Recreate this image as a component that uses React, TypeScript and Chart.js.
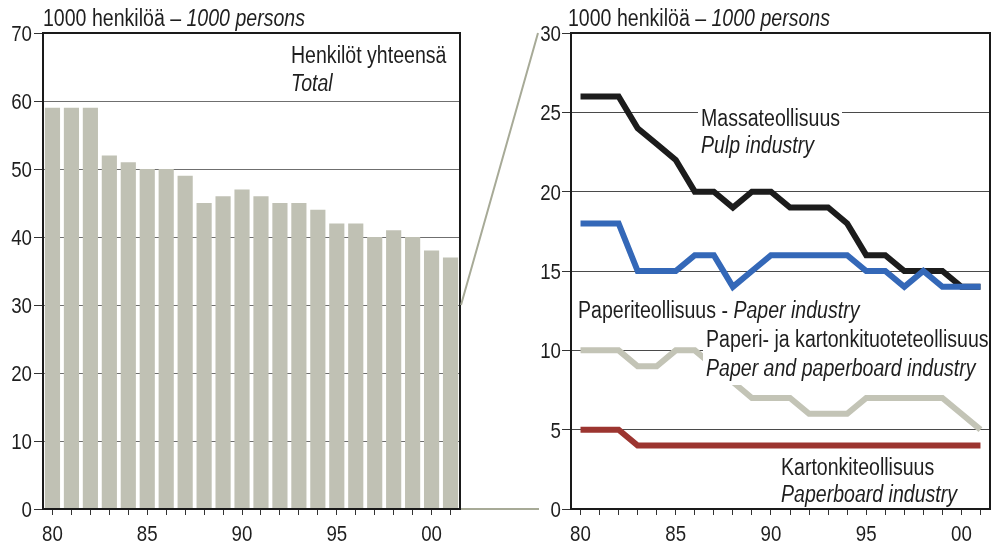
import React, { useEffect, useRef } from "react";
import { Chart, registerables } from "chart.js";

Chart.register(...registerables);

// ---------- data ----------
const years = ["80","81","82","83","84","85","86","87","88","89","90","91","92","93","94","95","96","97","98","99","00","01"];
const labelledYears = ["80", "85", "90", "95", "00"];

const totalEmployed = [59, 59, 59, 52, 51, 50, 50, 49, 45, 46, 47, 46, 45, 45, 44, 42, 42, 40, 41, 40, 38, 37];
const pulpIndustry = [26, 26, 26, 24, 23, 22, 20, 20, 19, 20, 20, 19, 19, 19, 18, 16, 16, 15, 15, 15, 14, 14];
const paperIndustry = [18, 18, 18, 15, 15, 15, 16, 16, 14, 15, 16, 16, 16, 16, 16, 15, 15, 14, 15, 14, 14, 14];
const paperProductsIndustry = [10, 10, 10, 9, 9, 10, 10, 9, 8, 7, 7, 7, 6, 6, 6, 7, 7, 7, 7, 7, 6, 5];
const paperboardIndustry = [5, 5, 5, 4, 4, 4, 4, 4, 4, 4, 4, 4, 4, 4, 4, 4, 4, 4, 4, 4, 4, 4];

const leftTicksY = { min: 0, max: 70, step: 10 };
const rightTicksY = { min: 0, max: 30, step: 5 };
const connectorValues = [30, 0];

// ---------- styling ----------
const FONT = "'Liberation Sans', Arial, sans-serif";
const TEXT = "#1e1e1e";
const SX = 0.85; // horizontal condensing to mimic a narrow sans

type Run = { t: string; i?: boolean };
function drawRuns(ctx: CanvasRenderingContext2D, x: number, y: number, runs: Run[], size: number, align: "left" | "right" | "center" = "left") {
  ctx.save();
  ctx.fillStyle = TEXT;
  ctx.textBaseline = "alphabetic";
  ctx.textAlign = "left";
  let total = 0;
  for (const r of runs) {
    ctx.font = `${r.i ? "italic " : ""}${size}px ${FONT}`;
    total += ctx.measureText(r.t).width;
  }
  let startX = x;
  if (align === "right") startX = x - total * SX;
  if (align === "center") startX = x - (total * SX) / 2;
  ctx.translate(startX, y);
  ctx.scale(SX, 1);
  let cx = 0;
  for (const r of runs) {
    ctx.font = `${r.i ? "italic " : ""}${size}px ${FONT}`;
    ctx.fillText(r.t, cx, 0);
    cx += ctx.measureText(r.t).width;
  }
  ctx.restore();
}

function drawFrame(chart: any) {
  const { ctx, chartArea: a } = chart;
  ctx.save();
  ctx.strokeStyle = "#1a1a1a";
  ctx.lineWidth = 2;
  ctx.strokeRect(a.left, a.top, a.right - a.left, a.bottom - a.top);
  ctx.restore();
}

function drawTickLabels(chart: any, yLabelGap: number) {
  const { ctx, chartArea: a, scales } = chart;
  const size = 22;
  const capHalf = 0.716 * size * 0.5;
  for (const t of scales.y.ticks) {
    const py = scales.y.getPixelForValue(t.value);
    drawRuns(ctx, a.left - yLabelGap, py + capHalf, [{ t: String(t.value) }], size, "right");
  }
  scales.x.ticks.forEach((_t: any, i: number) => {
    const lab = years[i];
    if (!labelledYears.includes(lab)) return;
    const px = scales.x.getPixelForValue(i);
    drawRuns(ctx, px, 541, [{ t: lab }], size, "center");
  });
}

function xScale() {
  return {
    type: "category" as const,
    offset: true,
    grid: { offset: false, drawOnChartArea: false, drawTicks: true, tickLength: 6, tickColor: "#333", lineWidth: 1 },
    border: { display: false },
    ticks: { display: false, autoSkip: false, maxRotation: 0, minRotation: 0 },
    afterFit: (s: any) => {
      s.height = 38;
    },
  };
}

const leftPlugin = {
  id: "leftDecor",
  afterDraw(chart: any) {
    const { ctx, chartArea: a, scales } = chart;
    drawFrame(chart);
    const w = chart.width;
    ctx.save();
    ctx.strokeStyle = "#a7aa97";
    ctx.lineWidth = 2;
    ctx.beginPath();
    ctx.moveTo(a.right + 1, scales.y.getPixelForValue(connectorValues[0]));
    ctx.lineTo(w - 2, a.top);
    ctx.moveTo(a.right + 1, scales.y.getPixelForValue(connectorValues[1]));
    ctx.lineTo(w - 1, scales.y.getPixelForValue(connectorValues[1]));
    ctx.stroke();
    ctx.restore();
    drawTickLabels(chart, 11);
    drawRuns(ctx, a.left, 26, [{ t: "1000 henkilöä – " }, { t: "1000 persons", i: true }], 23);
    drawRuns(ctx, 291, 63, [{ t: "Henkilöt yhteensä" }], 23);
    drawRuns(ctx, 291, 91, [{ t: "Total", i: true }], 23);
  },
};

const rightPlugin = {
  id: "rightDecor",
  afterDraw(chart: any) {
    const { ctx, chartArea: a } = chart;
    const ox = 540;
    ctx.save();
    ctx.fillStyle = "#ffffff";
    ctx.fillRect(698 - ox, 103, 144, 55);
    ctx.fillRect(703 - ox, 327, 990 - 703, 58);
    ctx.restore();
    drawFrame(chart);
    drawTickLabels(chart, 10);
    drawRuns(ctx, a.left - 3, 26, [{ t: "1000 henkilöä – " }, { t: "1000 persons", i: true }], 23);
    drawRuns(ctx, 701 - ox, 126, [{ t: "Massateollisuus" }], 23);
    drawRuns(ctx, 701 - ox, 153, [{ t: "Pulp industry", i: true }], 23);
    drawRuns(ctx, 578 - ox, 318, [{ t: "Paperiteollisuus - " }, { t: "Paper industry", i: true }], 23);
    drawRuns(ctx, 706 - ox, 347, [{ t: "Paperi- ja kartonkituoteteollisuus" }], 23);
    drawRuns(ctx, 706 - ox, 376, [{ t: "Paper and paperboard industry", i: true }], 23);
    drawRuns(ctx, 781 - ox, 475, [{ t: "Kartonkiteollisuus" }], 23);
    drawRuns(ctx, 781 - ox, 502, [{ t: "Paperboard industry", i: true }], 23);
  },
};

function lineDs(data: number[], color: string) {
  return {
    data,
    borderColor: color,
    backgroundColor: color,
    borderWidth: 6,
    pointRadius: 0,
    pointHoverRadius: 0,
    tension: 0,
    fill: false,
    borderJoinStyle: "miter" as const,
    borderCapStyle: "butt" as const,
  };
}

export default function App() {
  const leftRef = useRef<HTMLCanvasElement>(null);
  const rightRef = useRef<HTMLCanvasElement>(null);

  useEffect(() => {
    const left = new Chart(leftRef.current!, {
      type: "bar",
      data: {
        labels: years,
        datasets: [
          {
            data: totalEmployed,
            backgroundColor: "#c0c1b4",
            borderWidth: 0,
            barPercentage: 0.8,
            categoryPercentage: 1,
          },
        ],
      },
      options: {
        responsive: false,
        animation: false,
        devicePixelRatio: 1,
        layout: { padding: { top: 33, right: 80, bottom: 0, left: 0 } },
        plugins: { legend: { display: false }, tooltip: { enabled: false }, title: { display: false } },
        scales: {
          x: xScale(),
          y: {
            min: leftTicksY.min,
            max: leftTicksY.max,
            border: { display: false },
            grid: { color: "#6f6f6f", lineWidth: 1, tickLength: 9, tickColor: "#333", drawTicks: true },
            ticks: { display: false, stepSize: leftTicksY.step },
            afterFit: (s: any) => {
              s.width = 43;
            },
          },
        },
      },
      plugins: [leftPlugin],
    });

    const right = new Chart(rightRef.current!, {
      type: "line",
      data: {
        labels: years,
        datasets: [
          lineDs(paperIndustry, "#3468b8"),
          lineDs(pulpIndustry, "#1c1c1c"),
          lineDs(paperboardIndustry, "#9c3530"),
          lineDs(paperProductsIndustry, "#c3c4b6"),
        ],
      },
      options: {
        responsive: false,
        animation: false,
        devicePixelRatio: 1,
        layout: { padding: { top: 33, right: 2, bottom: 0, left: 0 } },
        plugins: { legend: { display: false }, tooltip: { enabled: false }, title: { display: false } },
        scales: {
          x: xScale(),
          y: {
            min: rightTicksY.min,
            max: rightTicksY.max,
            border: { display: false },
            grid: { color: "#4a4a4a", lineWidth: 1, tickLength: 9, tickColor: "#333", drawTicks: true },
            ticks: { display: false, stepSize: rightTicksY.step },
            afterFit: (s: any) => {
              s.width = 31;
            },
          },
        },
      },
      plugins: [rightPlugin],
    });

    return () => {
      left.destroy();
      right.destroy();
    };
  }, []);

  return (
    <div style={{ position: "absolute", left: 0, top: 0, width: 992, height: 547, background: "#fff" }}>
      <canvas ref={leftRef} width={540} height={547} style={{ position: "absolute", left: 0, top: 0, width: 540, height: 547 }} />
      <canvas ref={rightRef} width={452} height={547} style={{ position: "absolute", left: 540, top: 0, width: 452, height: 547 }} />
    </div>
  );
}
